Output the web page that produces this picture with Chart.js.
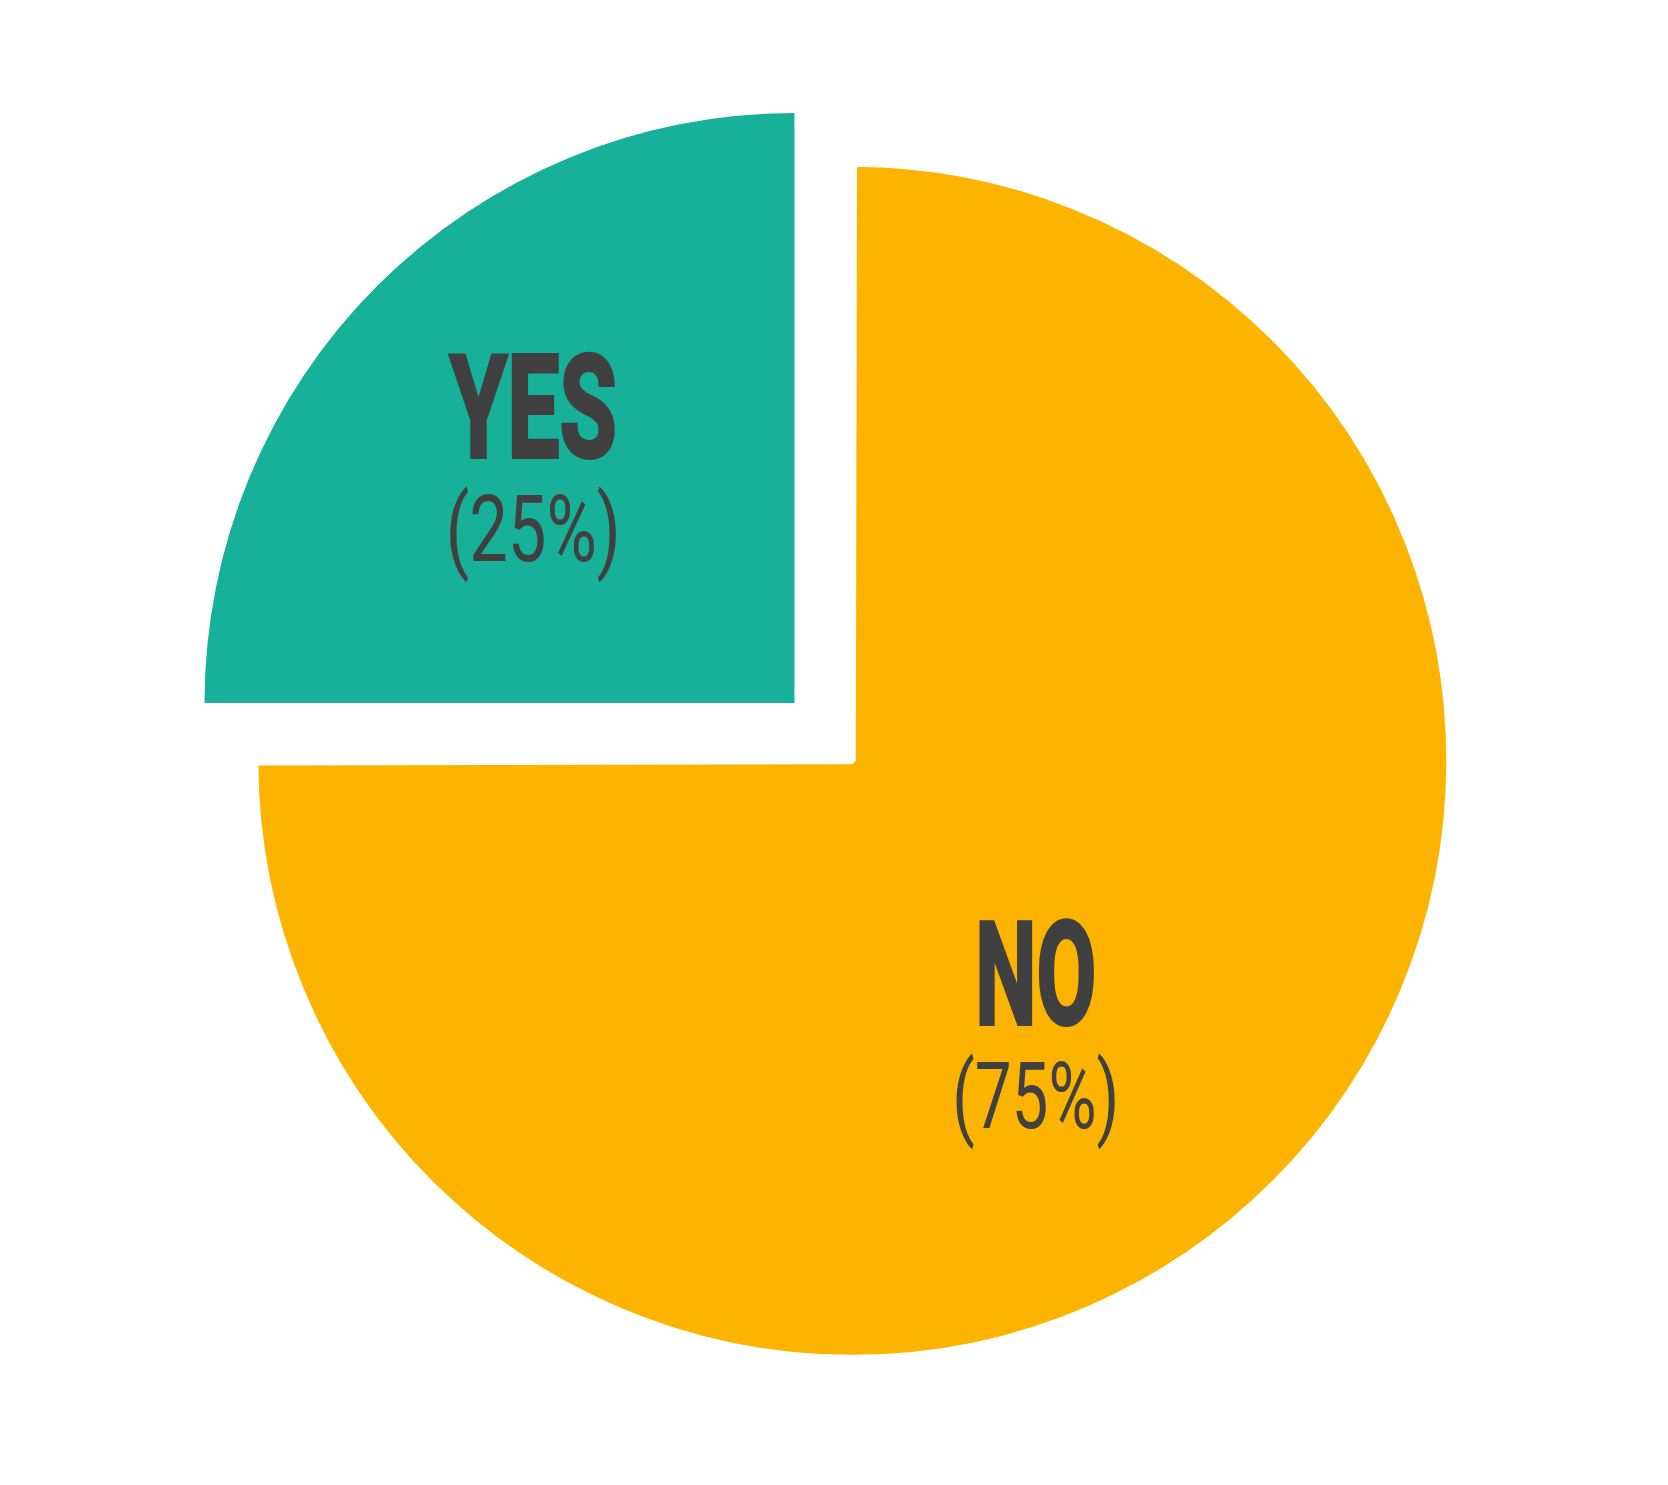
<!DOCTYPE html>
<html>
<head>
<meta charset="utf-8">
<script src="https://cdn.jsdelivr.net/npm/chart.js@4"></script>
<style>
  html, body { margin: 0; padding: 0; background: #ffffff; }
  #wrap { width: 1668px; height: 1485px; }
</style>
</head>
<body>
<div id="wrap"><canvas id="pie-chart" width="1668" height="1485"></canvas></div>
<script>
// Data
const answerLabels = ["YES", "NO"];
const answerShares = [25, 75];
const sliceColors = ["#17B098", "#FDB400"];
// Chart.js v4 moves an arc by offset / 4 (and grows wide arcs by the same amount)
const sliceOffsets = [297, 30];
// white edge on the big slice pulls its straight edges back from the centre
const sliceBorders = [0, 7];

// Baseline anchor of each label, as a fraction of the radius from the slice centre
const labelAnchors = [
	{ fx: -0.443, fy: -0.414, nameWidth: 167, pctWidth: 175 },
	{ fx: 0.311, fy: 0.449, nameWidth: 121, pctWidth: 167 },
];

const textColor = "#404040";

// Draws "YES / (25%)" style labels inside the slices, squeezed to look condensed
const sliceLabelPlugin = {
	id: "sliceLabels",
	afterDatasetsDraw(chart) {
		const ctx = chart.ctx;
		const meta = chart.getDatasetMeta(0);
		meta.data.forEach((arc, i) => {
			const p = arc.getProps(["x", "y", "startAngle", "endAngle", "outerRadius"], true);
			const mid = (p.startAngle + p.endAngle) / 2;
			const off = (sliceOffsets[i] || 0) / 4;
			const cx = p.x + Math.cos(mid) * off;
			const cy = p.y + Math.sin(mid) * off;
			const a = labelAnchors[i];
			const x = cx + a.fx * p.outerRadius;
			const y = cy + a.fy * p.outerRadius;

			drawSqueezed(ctx, answerLabels[i], x, y - 2, "bold 143px Roboto", a.nameWidth, 4);
			const pct = "(" + answerShares[i] + "%)";
			drawSqueezed(ctx, pct, x, y + 102, "400 92px Roboto", a.pctWidth, 0);
		});
	},
};

function drawSqueezed(ctx, text, x, y, font, targetWidth, thicken) {
	ctx.save();
	ctx.font = font;
	ctx.fillStyle = textColor;
	ctx.strokeStyle = textColor;
	ctx.textAlign = "center";
	ctx.textBaseline = "alphabetic";
	const w = ctx.measureText(text).width;
	const sx = targetWidth / w;
	ctx.translate(x, y);
	ctx.scale(sx, 1);
	ctx.fillText(text, 0, 0);
	if (thicken) {
		ctx.lineWidth = thicken;
		ctx.lineJoin = "miter";
		ctx.strokeText(text, 0, 0);
	}
	ctx.restore();
}

const ctx = document.getElementById("pie-chart").getContext("2d");
new Chart(ctx, {
	type: "pie",
	data: {
		labels: answerLabels,
		datasets: [
			{
				data: answerShares,
				backgroundColor: sliceColors,
				borderColor: "#ffffff",
				borderWidth: sliceBorders,
				offset: sliceOffsets,
				hoverOffset: 0,
			},
		],
	},
	options: {
		responsive: false,
		animation: false,
		rotation: -90,
		radius: 590,
		layout: { padding: { left: 26, top: 26, right: 0, bottom: 0 } },
		plugins: {
			legend: { display: false },
			tooltip: { enabled: false },
		},
	},
	plugins: [sliceLabelPlugin],
});
</script>
</body>
</html>
